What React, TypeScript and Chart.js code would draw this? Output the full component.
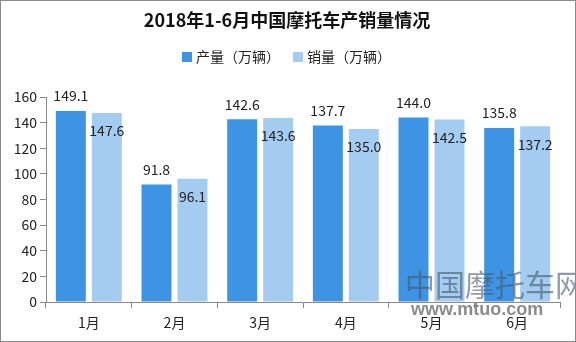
import React, { useEffect, useRef } from "react";
import { Chart, registerables } from "chart.js";

Chart.register(...registerables);

const categories = ["1月", "2月", "3月", "4月", "5月", "6月"];
const productionLabel = "产量（万辆）";
const salesLabel = "销量（万辆）";
const production = [149.1, 91.8, 142.6, 137.7, 144.0, 135.8];
const sales = [147.6, 96.1, 143.6, 135.0, 142.5, 137.2];
const titleText = "2018年1-6月中国摩托车产销量情况";
const watermarkCn = "中国摩托车网";
const watermarkUrl = "www.mtuo.com";

const DARK = "#3d94e4";
const LIGHT = "#a4ccf1";
const FONT = "'Noto Sans CJK SC', 'Open Sans', sans-serif";

const decorPlugin = {
  id: "decor",
  beforeDraw(chart: any) {
    const ctx = chart.ctx;
    ctx.save();
    ctx.fillStyle = "#ffffff";
    ctx.fillRect(0, 0, chart.width, chart.height);
    // title
    ctx.fillStyle = "#111";
    ctx.font = `bold 18px ${FONT}`;
    ctx.textAlign = "center";
    ctx.textBaseline = "middle";
    ctx.fillText(titleText, 287, 20);
    // legend
    const items = [
      { label: productionLabel, color: DARK, x: 182 },
      { label: salesLabel, color: LIGHT, x: 293 },
    ];
    ctx.font = `14px ${FONT}`;
    ctx.textAlign = "left";
    items.forEach((it) => {
      ctx.fillStyle = it.color;
      ctx.fillRect(it.x, 52, 10, 10);
      ctx.fillStyle = "#222";
      ctx.fillText(it.label, it.x + 14, 57);
    });
    ctx.restore();
  },
  afterDatasetsDraw(chart: any) {
    const ctx = chart.ctx;
    ctx.save();
    ctx.font = `14px ${FONT}`;
    ctx.fillStyle = "#222";
    ctx.textAlign = "center";
    ctx.textBaseline = "middle";
    chart.data.datasets.forEach((ds: any, di: number) => {
      const meta = chart.getDatasetMeta(di);
      meta.data.forEach((bar: any, i: number) => {
        const v = ds.data[i];
        const y = di === 0 ? bar.y - 15 : bar.y + 18;
        ctx.fillText(v.toFixed(1), bar.x, y);
      });
    });
    ctx.restore();
  },
  afterDraw(chart: any) {
    const ctx = chart.ctx;
    ctx.save();
    ctx.globalAlpha = 0.6;
    ctx.fillStyle = "#45586c";
    ctx.font = `30px ${FONT}`;
    ctx.textAlign = "left";
    ctx.textBaseline = "middle";
    ctx.fillText(watermarkCn, 405, 285);
    ctx.globalAlpha = 0.85;
    ctx.fillStyle = "#777";
    ctx.font = `bold 18px 'Liberation Sans', Arial, sans-serif`;
    ctx.fillText(watermarkUrl, 411, 310);
    ctx.globalAlpha = 1;
    ctx.strokeStyle = "#8a8a8a";
    ctx.lineWidth = 1;
    ctx.strokeRect(0.5, 0.5, chart.width - 1, chart.height - 1);
    ctx.restore();
  },
};

export default function App() {
  const ref = useRef<HTMLCanvasElement | null>(null);
  useEffect(() => {
    if (!ref.current) return;
    const chart = new Chart(ref.current, {
      type: "bar",
      data: {
        labels: categories,
        datasets: [
          {
            label: productionLabel,
            data: production,
            backgroundColor: DARK,
            categoryPercentage: 0.84,
            barPercentage: 0.833,
          },
          {
            label: salesLabel,
            data: sales,
            backgroundColor: LIGHT,
            categoryPercentage: 0.84,
            barPercentage: 0.833,
          },
        ],
      },
      options: {
        responsive: false,
        animation: false,
        layout: { padding: { top: 97, right: 16, left: 0, bottom: 0 } },
        plugins: {
          legend: { display: false },
          title: { display: false },
          tooltip: { enabled: false },
        },
        scales: {
          x: {
            grid: {
              offset: true,
              drawOnChartArea: false,
              drawTicks: true,
              tickLength: 6,
              color: "#888",
            },
            border: { display: true, color: "#888" },
            ticks: { color: "#222", font: { size: 14, family: FONT }, padding: 6 },
            afterFit: (scale: any) => {
              scale.height = 40;
            },
          },
          y: {
            min: 0,
            max: 160,
            grid: {
              drawOnChartArea: false,
              drawTicks: true,
              tickLength: 6,
              color: "#888",
            },
            border: { display: true, color: "#888" },
            ticks: {
              stepSize: 20,
              color: "#222",
              font: { size: 14, family: FONT },
              padding: 3,
            },
            afterFit: (scale: any) => {
              scale.width = 46;
            },
          },
        },
      },
      plugins: [decorPlugin],
    });
    return () => chart.destroy();
  }, []);
  return (
    <div style={{ position: "fixed", left: 0, top: 0, width: 576, height: 342 }}>
      <canvas ref={ref} width={576} height={342} style={{ width: 576, height: 342 }} />
    </div>
  );
}
